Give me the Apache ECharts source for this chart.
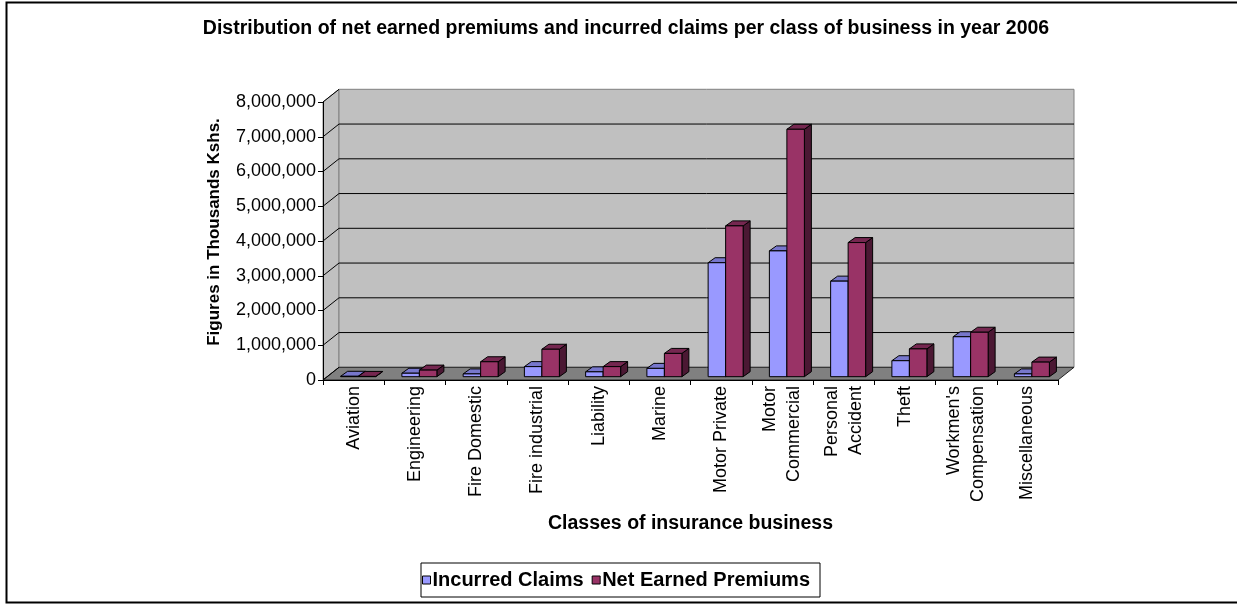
<!DOCTYPE html>
<html>
<head>
<meta charset="utf-8">
<title>Net earned premiums and incurred claims 2006</title>
<script src="https://cdn.jsdelivr.net/npm/echarts@6/dist/echarts.min.js"></script>
<style>
  html, body { margin: 0; padding: 0; background: #ffffff; }
  #chart { width: 1237px; height: 605px; }
</style>
</head>
<body>
<div id="chart"></div>
<script>
// Classes of business (line breaks give the two-line axis labels)
const categories = [
  'Aviation', 'Engineering', 'Fire Domestic', 'Fire industrial', 'Liability', 'Marine',
  'Motor Private', 'Motor\nCommercial', 'Personal\nAccident', 'Theft',
  "Workmen's\nCompensation", 'Miscellaneous'
];

// Figures in thousands of Kenya shillings
const incurredClaims = [
  12000, 100000, 80000, 290000, 140000, 240000,
  3280000, 3620000, 2750000, 460000, 1150000, 80000
];
const netEarnedPremiums = [
  8000, 190000, 430000, 790000, 290000, 670000,
  4340000, 7120000, 3860000, 800000, 1280000, 420000
];

// Value axis ticks
const yTickMin = 0;
const yTickMax = 8000000;
const yTickStep = 1000000;

const seriesNames = ['Incurred Claims', 'Net Earned Premiums'];

const FONT = 'Arial, "Liberation Sans", Helvetica, sans-serif';

// Pseudo-3D geometry (pixels)
const WALL_DEPTH = [16, -12.7];   // back wall offset from the front axis plane
const BAR_PLANE = [4.5, -3.3];    // bars' front faces sit a little behind the axis plane
const BAR_DEPTH = [7, -5];        // thickness of each column
const BAR_BAND_FRACTION = 17.5 / 61.25;

const palette = {
  claims: { front: '#9999FF', top: '#7777CC', side: '#55558F' },
  premiums: { front: '#993366', top: '#752750', side: '#4B1833' },
  wall: '#C0C0C0',
  wallEdge: '#808080',
  floor: '#808080'
};

function renderWalls(params, api) {
  const cs = params.coordSys;
  const dx = WALL_DEPTH[0], dy = WALL_DEPTH[1];
  const x0 = cs.x, x1 = cs.x + cs.width;
  const yTop = api.coord([0, yTickMax])[1];
  const yZero = api.coord([0, yTickMin])[1];
  const children = [];
  // side wall
  children.push({
    type: 'polygon',
    shape: { points: [[x0, yTop], [x0 + dx, yTop + dy], [x0 + dx, yZero + dy], [x0, yZero]] },
    style: { fill: palette.wall, stroke: palette.wallEdge, lineWidth: 1 }
  });
  // back wall
  children.push({
    type: 'rect',
    shape: { x: x0 + dx, y: yTop + dy, width: x1 - x0, height: yZero - yTop },
    style: { fill: palette.wall, stroke: palette.wallEdge, lineWidth: 1 }
  });
  // floor
  children.push({
    type: 'polygon',
    shape: { points: [[x0, yZero], [x1, yZero], [x1 + dx, yZero + dy], [x0 + dx, yZero + dy]] },
    style: { fill: palette.floor, stroke: '#222222', lineWidth: 1 }
  });
  // gridlines on the back wall, continued diagonally across the side wall
  for (let v = yTickMin; v <= yTickMax; v += yTickStep) {
    const y = api.coord([0, v])[1];
    if (v > yTickMin && v < yTickMax) {
      children.push({
        type: 'line',
        shape: { x1: x0 + dx, y1: y + dy, x2: x1 + dx, y2: y + dy },
        style: { stroke: '#000000', lineWidth: 1 }
      });
    }
    children.push({
      type: 'line',
      shape: { x1: x0, y1: y, x2: x0 + dx, y2: y + dy },
      style: { stroke: '#000000', lineWidth: 1 }
    });
  }
  return { type: 'group', children: children };
}

// side = -1 draws the column left of the band centre, +1 right of it
function columnRenderer(side, colors) {
  return function (params, api) {
    const idx = api.value(0);
    const val = api.value(1);
    const band = api.size([1, 0])[0];
    const w = band * BAR_BAND_FRACTION;
    const base = api.coord([idx, 0]);
    const top = api.coord([idx, val]);
    const cx = base[0] + BAR_PLANE[0];
    const xa = side < 0 ? cx - w : cx;
    const xb = xa + w;
    const yb = base[1] + BAR_PLANE[1];
    const yt = top[1] + BAR_PLANE[1];
    const dx = BAR_DEPTH[0], dy = BAR_DEPTH[1];
    const edge = { stroke: '#000000', lineWidth: 1, lineJoin: 'miter' };
    return {
      type: 'group',
      children: [
        {
          type: 'polygon',
          shape: { points: [[xb, yt], [xb + dx, yt + dy], [xb + dx, yb + dy], [xb, yb]] },
          style: Object.assign({ fill: colors.side }, edge)
        },
        {
          type: 'polygon',
          shape: { points: [[xa, yt], [xb, yt], [xb + dx, yt + dy], [xa + dx, yt + dy]] },
          style: Object.assign({ fill: colors.top }, edge)
        },
        {
          type: 'rect',
          shape: { x: xa, y: yt, width: w, height: yb - yt },
          style: Object.assign({ fill: colors.front }, edge)
        }
      ]
    };
  };
}

const chart = echarts.init(document.getElementById('chart'), null, { renderer: 'canvas' });

chart.setOption({
  animation: false,
  backgroundColor: '#ffffff',
  textStyle: { fontFamily: FONT },
  title: {
    text: 'Distribution of net earned premiums and incurred claims per class of business in year 2006',
    left: 626,
    top: 19,
    textAlign: 'center',
    padding: 0,
    textStyle: { fontFamily: FONT, fontSize: 19.5, fontWeight: 'bold', color: '#000000' }
  },
  graphic: [
    {
      type: 'rect',
      shape: { x: 6.5, y: 2.5, width: 1240, height: 600 },
      style: { fill: null, stroke: '#000000', lineWidth: 2 },
      silent: true
    }
  ],
  legend: {
    data: seriesNames,
    left: 421,
    top: 563,
    padding: [7, 10, 7, 1],
    itemGap: 8,
    itemWidth: 8,
    itemHeight: 8,
    icon: 'rect',
    borderColor: '#000000',
    borderWidth: 1,
    backgroundColor: '#ffffff',
    itemStyle: { borderColor: '#000000', borderWidth: 1 },
    textStyle: { fontFamily: FONT, fontSize: 20, fontWeight: 'bold', color: '#000000', padding: [0, 0, 0, -3] }
  },
  grid: {
    left: 323,
    right: 179,
    top: 102,
    bottom: 225,
    containLabel: false,
    outerBoundsMode: 'none'
  },
  xAxis: {
    type: 'category',
    data: categories,
    z: 10,
    name: 'Classes of insurance business',
    nameLocation: 'middle',
    nameGap: 134,
    nameTextStyle: { fontFamily: FONT, fontSize: 19.5, fontWeight: 'bold', color: '#000000' },
    axisLine: { show: true, lineStyle: { color: '#000000', width: 1 } },
    axisTick: { show: true, alignWithLabel: false, interval: 0, length: 5, lineStyle: { color: '#000000' } },
    axisLabel: {
      interval: 0,
      rotate: 90,
      margin: 6,
      fontFamily: FONT,
      fontSize: 18,
      lineHeight: 24,
      color: '#000000'
    },
    splitLine: { show: false }
  },
  yAxis: {
    type: 'value',
    min: yTickMin,
    max: yTickMax,
    interval: yTickStep,
    z: 10,
    name: 'Figures in Thousands Kshs.',
    nameLocation: 'middle',
    nameGap: 100,
    nameTextStyle: { fontFamily: FONT, fontSize: 17, fontWeight: 'bold', color: '#000000', padding: [0, 0, 0, 18] },
    axisLine: { show: true, lineStyle: { color: '#000000', width: 1 } },
    axisTick: { show: true, length: 5, lineStyle: { color: '#000000' } },
    axisLabel: {
      margin: 7,
      fontFamily: FONT,
      fontSize: 18,
      color: '#000000',
      formatter: function (v) { return v.toLocaleString('en-US'); }
    },
    splitLine: { show: false }
  },
  series: [
    {
      type: 'custom',
      name: 'walls',
      silent: true,
      z: 1,
      renderItem: renderWalls,
      data: [[0, 0]],
      encode: { x: 0, y: 1 },
      tooltip: { show: false }
    },
    {
      type: 'custom',
      name: seriesNames[0],
      z: 3,
      itemStyle: { color: palette.claims.front },
      renderItem: columnRenderer(-1, palette.claims),
      data: incurredClaims.map(function (v, i) { return [i, v]; }),
      encode: { x: 0, y: 1 }
    },
    {
      type: 'custom',
      name: seriesNames[1],
      z: 4,
      itemStyle: { color: palette.premiums.front },
      renderItem: columnRenderer(1, palette.premiums),
      data: netEarnedPremiums.map(function (v, i) { return [i, v]; }),
      encode: { x: 0, y: 1 }
    }
  ]
});
</script>
</body>
</html>
